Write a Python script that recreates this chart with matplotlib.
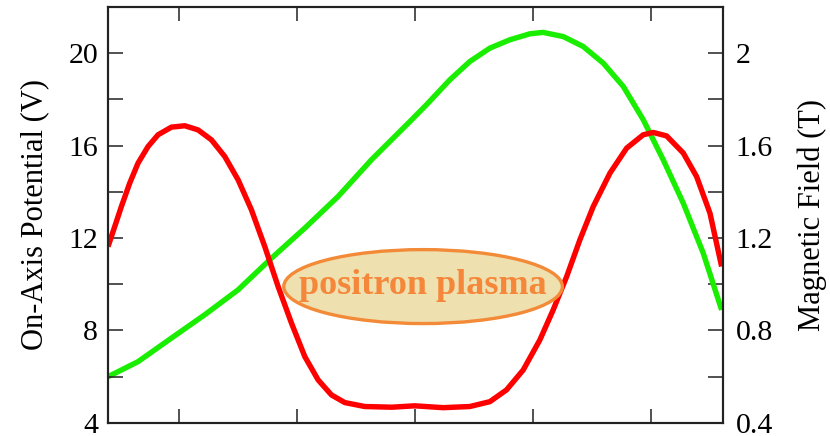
import matplotlib
matplotlib.use('Agg')
import matplotlib.pyplot as plt
from matplotlib.patches import Ellipse
from matplotlib.ticker import MultipleLocator, NullFormatter

plt.rcParams['font.family'] = ['Liberation Serif', 'DejaVu Serif']

# axial position (arbitrary units, one per x tick)
x_pot = [-0.599, -0.542, -0.486, -0.415, -0.345, -0.260, -0.175, -0.062, 0.051,
         0.164, 0.277, 0.390, 0.503, 0.616, 0.729, 0.842, 0.955, 1.068, 1.181,
         1.294, 1.407, 1.576, 1.803, 2.000, 2.240, 2.466, 2.636, 2.777, 2.918,
         3.059, 3.172, 3.286, 3.398, 3.511, 3.653, 3.794, 3.935, 4.019, 4.133,
         4.274, 4.387, 4.500, 4.599]
potential = [11.63, 12.50, 13.36, 14.38, 15.24, 15.96, 16.47, 16.80, 16.86,
             16.68, 16.25, 15.53, 14.52, 13.22, 11.63, 9.90, 8.32, 6.87, 5.86,
             5.21, 4.88, 4.71, 4.68, 4.74, 4.66, 4.71, 4.92, 5.43, 6.29,
             7.59, 8.89, 10.33, 11.92, 13.36, 14.81, 15.89, 16.47, 16.57, 16.42,
             15.68, 14.66, 13.08, 10.77]

x_mag = [-0.599, -0.345, -0.062, 0.220, 0.503, 0.786, 1.068, 1.350, 1.633,
         1.958, 2.099, 2.297, 2.466, 2.636, 2.805, 2.975, 3.087, 3.257, 3.426,
         3.596, 3.766, 3.935, 4.104, 4.274, 4.443, 4.599]
field = [0.600, 0.665, 0.767, 0.868, 0.976, 1.113, 1.243, 1.380, 1.539,
         1.704, 1.777, 1.885, 1.964, 2.022, 2.058, 2.084, 2.090, 2.072, 2.029,
         1.957, 1.856, 1.712, 1.539, 1.351, 1.135, 0.889]

left_ticks = [4, 8, 12, 16, 20]
right_ticks = [0.4, 0.8, 1.2, 1.6, 2.0]
right_labels = ['0.4', '0.8', '1.2', '1.6', '2']

fig = plt.figure(figsize=(8.3, 4.36), dpi=100)
ax1 = fig.add_axes([0.130, 0.030, 0.741, 0.954])
ax2 = ax1.twinx()

ax2.plot(x_mag, field, color='#1aee00', lw=3.9, solid_capstyle='butt',
         solid_joinstyle='round', zorder=2)
ax1.plot(x_pot, potential, color='#ff0000', lw=3.9, solid_capstyle='butt',
         solid_joinstyle='round', zorder=2)

ax1.set_xlim(-0.6, 4.61)
ax1.set_ylim(4, 22)
ax2.set_ylim(0.4, 2.2)

ax1.set_xticks([0, 1, 2, 3, 4])
ax1.xaxis.set_major_formatter(NullFormatter())
ax1.set_yticks(left_ticks)
ax1.set_yticklabels([str(t) for t in left_ticks])
ax1.yaxis.set_minor_locator(MultipleLocator(2))
ax2.set_yticks(right_ticks)
ax2.set_yticklabels(right_labels)
ax2.yaxis.set_minor_locator(MultipleLocator(0.2))

ax1.tick_params(axis='x', which='both', direction='in', top=True, bottom=True,
                length=10, width=1.1, color='#222222')
ax1.tick_params(axis='y', which='both', direction='in', left=True, right=False,
                length=11, width=1.1, labelsize=21.5, pad=7, color='#222222')
ax2.tick_params(axis='y', which='both', direction='in', length=11, width=1.1,
                labelsize=21.5, pad=9, color='#222222')

for ax in (ax1, ax2):
    for s in ax.spines.values():
        s.set_linewidth(1.5)
        s.set_color('#222222')

ax1.set_ylabel('On-Axis Potential (V)', fontsize=22, labelpad=14)
ax2.set_ylabel('Magnetic Field (T)', fontsize=22, labelpad=18)

# plasma blob
ell = Ellipse((2.07, 9.9), 2.36, 3.2, facecolor='#efe0b0', edgecolor='#f28a38',
              lw=2.4, zorder=3)
ax1.add_patch(ell)
ax1.text(2.07, 9.95, 'positron plasma', ha='center', va='center', fontsize=26,
         fontweight='bold', color='#f5873a', zorder=4)

ax1.set_zorder(ax2.get_zorder() + 1)
ax1.patch.set_visible(False)

fig.savefig('out.png', dpi=100)
